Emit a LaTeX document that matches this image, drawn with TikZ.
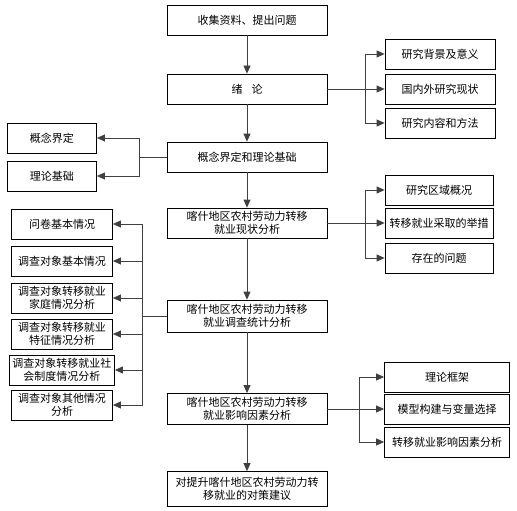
\documentclass[tikz,border=0pt]{standalone}
\usepackage{fontspec}
\setmainfont{Noto Sans CJK SC}
\usetikzlibrary{arrows.meta}

\begin{document}
\begin{tikzpicture}[
    x=1pt,y=-1pt,
    box/.style={draw, thick, rectangle, minimum height=30pt, inner sep=1pt,
      align=center, font=\fontsize{11pt}{13pt}\selectfont},
    line/.style={black!75, thick},
    arr/.style={line, -{Triangle[length=8pt,width=7pt]}}
    ]
    \useasboundingbox (0,0) rectangle (517,511);
    % main column
    \node[box, minimum width=160pt] (m1) at (247,20) {收集资料、提出问题};
    \node[box, minimum width=160pt] (m2) at (247,89) {绪\hspace{9pt}论};
    \node[box, minimum width=160pt] (m3) at (247,157) {概念界定和理论基础};
    \node[box, minimum width=160pt] (m4) at (247,223) {喀什地区农村劳动力转移\\就业现状分析};
    \node[box, minimum width=160pt, minimum height=32pt] (m5) at (247,316) {喀什地区农村劳动力转移\\就业调查统计分析};
    \node[box, minimum width=160pt, minimum height=31pt] (m6) at (247,409) {喀什地区农村劳动力转移\\就业影响因素分析};
    \node[box, minimum width=160pt, minimum height=35pt] (m7) at (247,489) {对提升喀什地区农村劳动力转\\移就业的对策建议};
    \draw[arr] (m1) -- (m2);
    \draw[arr] (m2) -- (m3);
    \draw[arr] (m3) -- (m4);
    \draw[arr] (m4) -- (m5);
    \draw[arr] (m5) -- (m6);
    \draw[arr] (m6) -- (m7);
    % right: introduction
    \node[box, minimum width=110pt] (a1) at (440,54) {研究背景及意义};
    \node[box, minimum width=110pt] (a2) at (440,89) {国内外研究现状};
    \node[box, minimum width=110pt] (a3) at (440,123) {研究内容和方法};
    \coordinate (ja) at (365,89);
    \draw[line] (m2) -- (ja);
    \foreach \n in {a1,a2,a3}
      \draw[arr] (ja) |- (\n.west);
    % right: current situation
    \node[box, minimum width=108pt] (b1) at (439,190) {研究区域概况};
    \node[box, minimum width=108pt] (b2) at (439,223) {转移就业采取的举措};
    \node[box, minimum width=108pt] (b3) at (439,258) {存在的问题};
    \coordinate (jb) at (365,223);
    \draw[line] (m4) -- (jb);
    \foreach \n in {b1,b2,b3}
      \draw[arr] (jb) |- (\n.west);
    % right: factors
    \node[box, minimum width=125pt] (c1) at (447,377) {理论框架};
    \node[box, minimum width=125pt] (c2) at (447,409) {模型构建与变量选择};
    \node[box, minimum width=125pt] (c3) at (447,442) {转移就业影响因素分析};
    \coordinate (jc) at (359,409);
    \draw[line] (m6) -- (jc);
    \foreach \n in {c1,c2,c3}
      \draw[arr] (jc) |- (\n.west);
    % left: concepts
    \node[box, minimum width=89pt] (d1) at (52,138) {概念界定};
    \node[box, minimum width=89pt] (d2) at (52,176) {理论基础};
    \coordinate (jd) at (139,157);
    \draw[line] (m3) -- (jd);
    \foreach \n in {d1,d2}
      \draw[arr] (jd) |- (\n.east);
    % left: survey
    \node[box, minimum width=101pt] (e1) at (62,224) {问卷基本情况};
    \node[box, minimum width=101pt] (e2) at (62,261) {调查对象基本情况};
    \node[box, minimum width=101pt] (e3) at (62,298) {调查对象转移就业\\家庭情况分析};
    \node[box, minimum width=101pt] (e4) at (62,334) {调查对象转移就业\\特征情况分析};
    \node[box, minimum width=105pt] (e5) at (62,370) {调查对象转移就业社\\会制度情况分析};
    \node[box, minimum width=101pt] (e6) at (62,405) {调查对象其他情况\\分析};
    \coordinate (je) at (142,316);
    \draw[line] (m5) -- (je);
    \foreach \n in {e1,e2,e3,e4,e5,e6}
      \draw[arr] (je) |- (\n.east);
  \end{tikzpicture}
\end{document}
